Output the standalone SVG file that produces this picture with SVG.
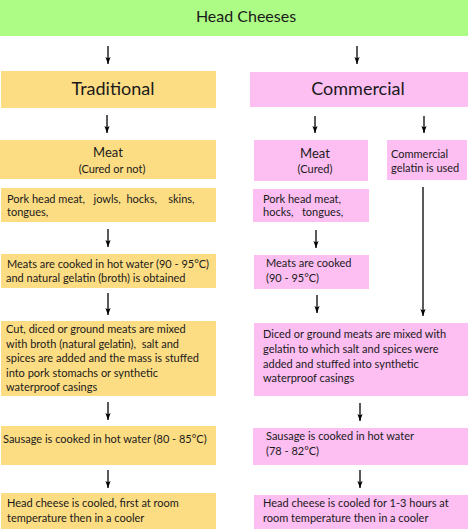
<svg xmlns="http://www.w3.org/2000/svg" width="468" height="529" viewBox="0 0 468 529">
<defs>
<marker id="ah" markerWidth="8" markerHeight="6" refX="7" refY="3" orient="auto" markerUnits="userSpaceOnUse">
<path d="M0,0.4 L7,3 L0,5.6 L1.6,3 Z" fill="#000"/>
</marker>
<style>
text{font-family:Lato,"Open Sans",sans-serif;fill:#1a1a1a;white-space:pre}
.g{fill:#adfc85}
.y{fill:#fddd84}
.p{fill:#fdbef2}
.t{font-size:16px}
.h{font-size:18px}
.m{font-size:13px}
.s{font-size:11px}
.b{font-size:11px}
.c{text-anchor:middle}
.a{stroke:#000;stroke-width:1.3;fill:none;marker-end:url(#ah)}
</style>
</defs>
<rect width="468" height="529" fill="#fff"/>
<g id="title"><rect class="g" x="0" y="0" width="468" height="36"/><text class="t c" x="246" y="22">Head Cheeses</text></g>
<g id="traditional"><rect class="y" x="1" y="71" width="215" height="37"/><text class="h c" x="113" y="95">Traditional</text></g>
<g id="commercial"><rect class="p" x="250" y="72" width="218" height="35"/><text class="h c" x="358" y="95">Commercial</text></g>
<g id="t-meat"><rect class="y" x="0" y="140" width="216" height="39"/><text class="m c" x="108" y="157">Meat</text><text class="s c" x="112" y="173">(Cured or not)</text></g>
<g id="t-pork"><rect class="y" x="1" y="188" width="215" height="34"/><text class="b" x="7" y="203">Pork head meat,   jowls,  hocks,    skins,</text><text class="b" x="7" y="216">tongues,</text></g>
<g id="t-cook"><rect class="y" x="1" y="254" width="215" height="34"/><text class="b" x="7" y="268">Meats are cooked in hot water (90 - 95°C)</text><text class="b" x="6" y="282">and natural gelatin (broth) is obtained</text></g>
<g id="t-mix"><rect class="y" x="1" y="321" width="215" height="75"/><text class="b" x="6" y="333">Cut, diced or ground meats are mixed</text><text class="b" x="6" y="348">with broth (natural gelatin),  salt and</text><text class="b" x="6" y="362">spices are added and the mass is stuffed</text><text class="b" x="6" y="377">into pork stomachs or synthetic</text><text class="b" x="6" y="391">waterproof casings</text></g>
<g id="t-sausage"><rect class="y" x="1" y="426" width="215" height="39"/><text class="b" x="3" y="443">Sausage is cooked in hot water (80 - 85°C)</text></g>
<g id="t-cool"><rect class="y" x="1" y="493" width="215" height="36"/><text class="b" x="7" y="507">Head cheese is cooled, first at room</text><text class="b" x="7" y="522">temperature then in a cooler</text></g>
<g id="c-meat"><rect class="p" x="254" y="140" width="114" height="41"/><text class="m c" x="315" y="158">Meat</text><text class="s c" x="315" y="173">(Cured)</text></g>
<g id="c-gelatin"><rect class="p" x="387" y="140" width="80" height="40"/><text class="b" x="391" y="158">Commercial</text><text class="b" x="391" y="172">gelatin is used</text></g>
<g id="c-pork"><rect class="p" x="253" y="189" width="116" height="33"/><text class="b" x="263" y="203">Pork head meat,</text><text class="b" x="263" y="216">hocks,   tongues,</text></g>
<g id="c-cook"><rect class="p" x="254" y="255" width="115" height="34"/><text class="b" x="266" y="267">Meats are cooked</text><text class="b" x="266" y="282">(90 - 95°C)</text></g>
<g id="c-mix"><rect class="p" x="254" y="323" width="214" height="73"/><text class="b" x="263" y="338">Diced or ground meats are mixed with</text><text class="b" x="263" y="353">gelatin to which salt and spices were</text><text class="b" x="263" y="368">added and stuffed into synthetic</text><text class="b" x="263" y="382">waterproof casings</text></g>
<g id="c-sausage"><rect class="p" x="253" y="428" width="215" height="37"/><text class="b" x="266" y="440">Sausage is cooked in hot water</text><text class="b" x="266" y="455">(78 - 82°C)</text></g>
<g id="c-cool"><rect class="p" x="254" y="495" width="214" height="34"/><text class="b" x="263" y="507">Head cheese is cooled for 1-3 hours at</text><text class="b" x="263" y="522">room temperature then in a cooler</text></g>
<g id="connectors">
<line class="a" x1="108" y1="46" x2="108" y2="64"/>
<line class="a" x1="357" y1="46" x2="357" y2="64"/>
<line class="a" x1="107" y1="115" x2="107" y2="133"/>
<line class="a" x1="315" y1="116" x2="315" y2="133"/>
<line class="a" x1="424" y1="116" x2="424" y2="133"/>
<line class="a" x1="108" y1="229" x2="108" y2="247"/>
<line class="a" x1="316" y1="230" x2="316" y2="248"/>
<line class="a" x1="108" y1="293" x2="108" y2="315"/>
<line class="a" x1="317" y1="295" x2="317" y2="313"/>
<line class="a" x1="423" y1="187" x2="423" y2="316"/>
<line class="a" x1="108" y1="402" x2="108" y2="420"/>
<line class="a" x1="360" y1="403" x2="360" y2="421"/>
<line class="a" x1="108" y1="470" x2="108" y2="488"/>
<line class="a" x1="360" y1="470" x2="360" y2="488"/>
</g>
</svg>
